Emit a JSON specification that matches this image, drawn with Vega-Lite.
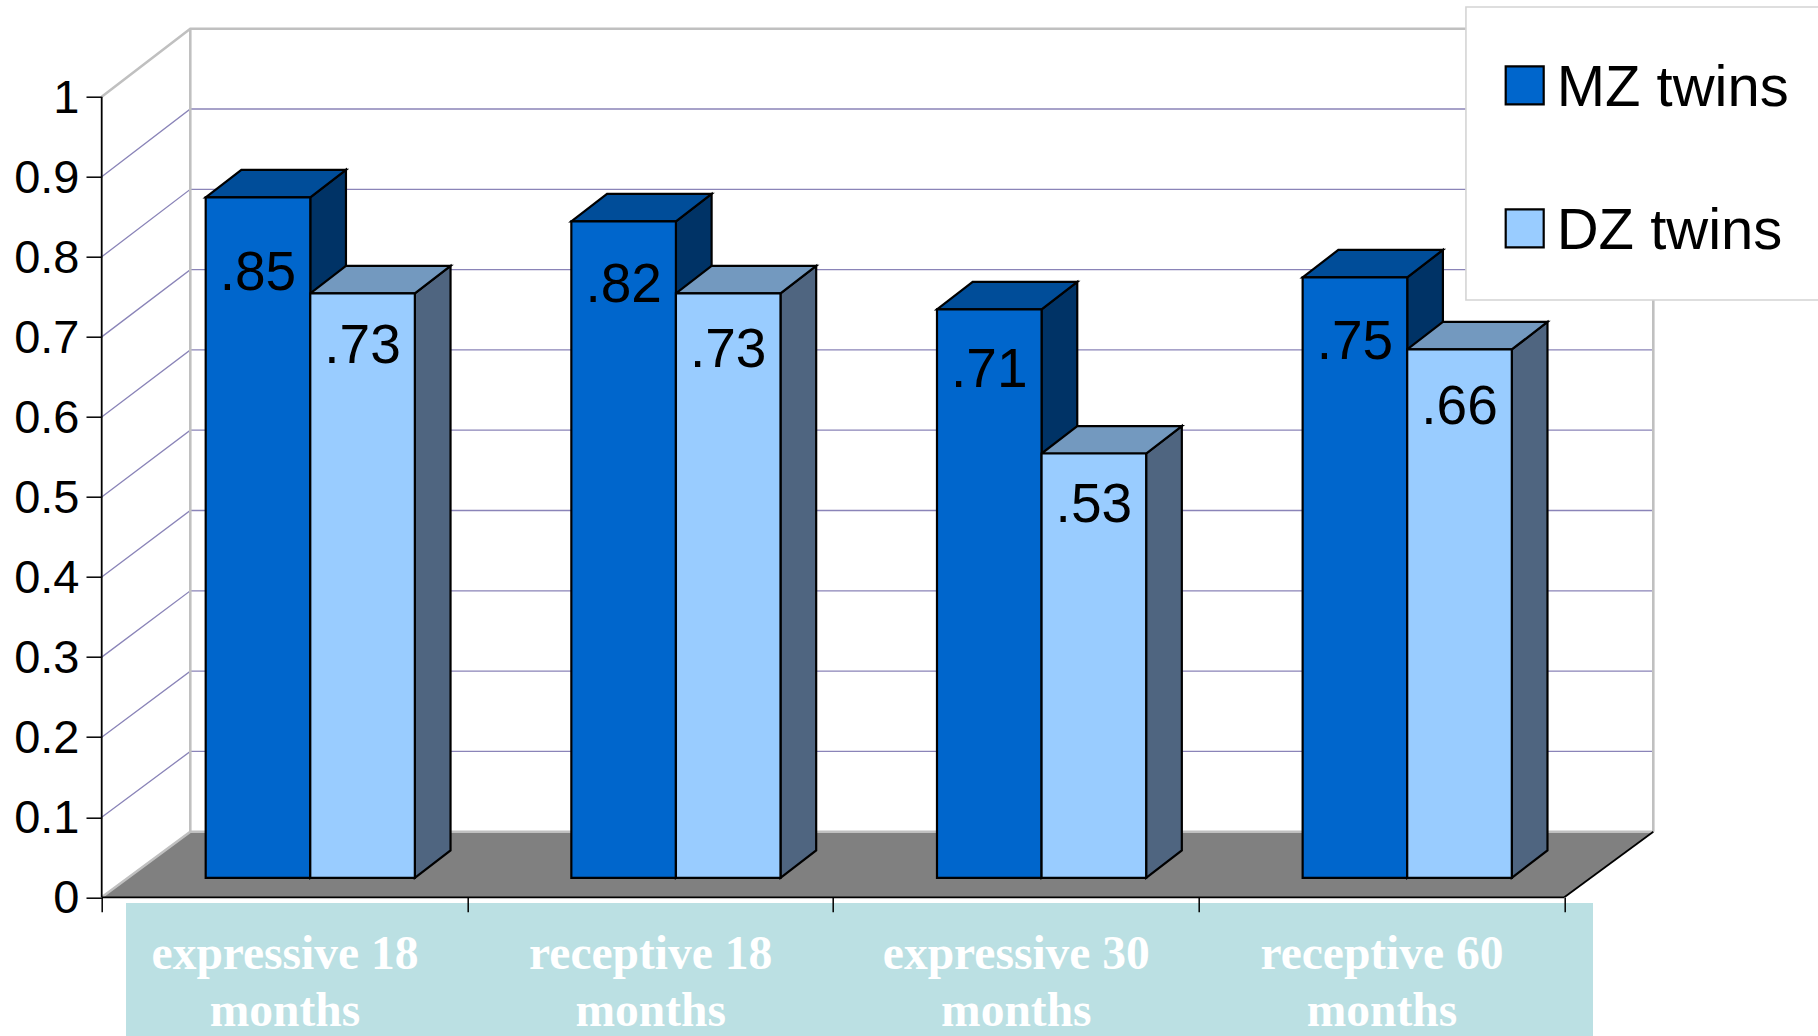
{"$schema":"https://vega.github.io/schema/vega-lite/v6.json","width":1551.6,"height":868.6,"autosize":"none","padding":{"left":101.7,"top":28.7,"right":164.7,"bottom":138.7},"background":"white","config":{"view":{"stroke":null},"font":"Liberation Sans"},
"datasets":{
"bars":[
{"category":"expressive 18 months","series":"MZ twins","value":0.85,"label":".85","at":0.78},
{"category":"expressive 18 months","series":"DZ twins","value":0.73,"label":".73","at":0.688},
{"category":"receptive 18 months","series":"MZ twins","value":0.82,"label":".82","at":0.765},
{"category":"receptive 18 months","series":"DZ twins","value":0.73,"label":".73","at":0.683},
{"category":"expressive 30 months","series":"MZ twins","value":0.71,"label":".71","at":0.659},
{"category":"expressive 30 months","series":"DZ twins","value":0.53,"label":".53","at":0.49},
{"category":"receptive 60 months","series":"MZ twins","value":0.75,"label":".75","at":0.694},
{"category":"receptive 60 months","series":"DZ twins","value":0.66,"label":".66","at":0.612}],
"grid":[{"level":0.1},{"level":0.2},{"level":0.3},{"level":0.4},{"level":0.5},{"level":0.6},{"level":0.7},{"level":0.8},{"level":0.9}],
"floor":[{"px":0,"py":0,"py2":0},{"px":0.2423,"py":0,"py2":0.0819},{"px":4,"py":0,"py2":0.0819},{"px":4.2434,"py":0.0819,"py2":0.0819}],
"frame":[
{"kind":"gray","edge":"a","step":0,"px":0,"py":1},{"kind":"gray","edge":"a","step":1,"px":0.2423,"py":1.0849},{"kind":"gray","edge":"a","step":2,"px":4.2434,"py":1.0849},{"kind":"gray","edge":"a","step":3,"px":4.2434,"py":0.0819},
{"kind":"gray","edge":"b","step":0,"px":0.2423,"py":0.0819},{"kind":"gray","edge":"b","step":1,"px":0.2423,"py":1.0849},
{"kind":"gray","edge":"c","step":0,"px":0,"py":0},{"kind":"gray","edge":"c","step":1,"px":0.2423,"py":0.0819},{"kind":"gray","edge":"c","step":2,"px":4.2434,"py":0.0819},
{"kind":"black","edge":"d","step":0,"px":4,"py":0},{"kind":"black","edge":"d","step":1,"px":4.2434,"py":0.0819},
{"kind":"black","edge":"e","step":0,"px":0,"py":0},{"kind":"black","edge":"e","step":1,"px":0,"py":1},
{"kind":"black","edge":"f","step":0,"px":0,"py":0},{"kind":"black","edge":"f","step":1,"px":4,"py":0}]
},
"encoding":{
"x":{"field":"px","type":"quantitative","title":null,"scale":{"domain":[0,4.2434],"nice":false,"zero":false},
"axis":{"values":[0,0.5,1,1.5,2,2.5,3,3.5,4],"domain":false,"grid":false,"tickSize":14.4,"tickColor":"black","tickWidth":1.5,"tickOpacity":{"condition":{"test":"datum.value % 1 == 0","value":1},"value":0},"zindex":1,"labelOverlap":false,"labelBound":false,"labelFlush":false,"labelLimit":1000,"labelFont":"Liberation Serif","labelFontWeight":"bold","labelFontSize":47.5,"labelLineHeight":57,"labelColor":"white","labelBaseline":"top","labelPadding":19,"labelExpr":"datum.value==0.5?['expressive 18','months']:datum.value==1.5?['receptive 18','months']:datum.value==2.5?['expressive 30','months']:datum.value==3.5?['receptive 60','months']:''"}},
"y":{"field":"py","type":"quantitative","title":null,"scale":{"domain":[0,1.0849],"nice":false,"zero":false},
"axis":{"values":[0,0.1,0.2,0.3,0.4,0.5,0.6,0.7,0.8,0.9,1],"format":".1~f","domain":false,"grid":false,"tickSize":15.7,"tickColor":"black","tickWidth":1.5,"labelFont":"Liberation Sans","labelFontSize":47,"labelColor":"black","labelPadding":7,"labelOffset":1.5,"labelOverlap":false,"labelBound":false}}
},
"layer":[
{"data":{"name":"floor"},"mark":{"type":"area","orient":"vertical","fill":"#808080"},"encoding":{"y2":{"field":"py2"}}},
{"data":{"name":"grid"},"transform":[{"calculate":"[0,1,2]","as":"v"},{"flatten":["v"]},{"calculate":"datum.v==0?0:datum.v==1?0.2423:4.2434","as":"px"},{"calculate":"datum.v==0?datum.level:0.0819+datum.level*1.003","as":"py"}],"mark":{"type":"line","stroke":"#8A84B8","strokeWidth":1.3},"encoding":{"detail":{"field":"level"},"order":{"field":"v"}}},
{"data":{"name":"frame"},"transform":[{"filter":"datum.kind=='gray'"}],"mark":{"type":"line","stroke":"#C0C0C0","strokeWidth":2.6},"encoding":{"detail":{"field":"edge"},"order":{"field":"step"}}},
{"data":{"name":"frame"},"transform":[{"filter":"datum.kind=='black'"}],"mark":{"type":"line","stroke":"black","strokeWidth":1.8},"encoding":{"detail":{"field":"edge"},"order":{"field":"step"}}},
{"data":{"name":"bars"},"transform":[
{"calculate":"indexof(['expressive 18 months','receptive 18 months','expressive 30 months','receptive 60 months'],datum.category)","as":"slot"},
{"calculate":"datum.slot+0.2844+(datum.series=='MZ twins'?0:0.286)","as":"xl"},
{"calculate":"datum.xl+0.286","as":"xr"},
{"calculate":"datum.value+0.0243","as":"top"}],
"layer":[
{"transform":[{"calculate":"[0,1]","as":"v"},{"flatten":["v"]},{"calculate":"datum.xr+datum.v*0.0976","as":"px"},{"calculate":"0.0243+datum.v*0.0343","as":"py"},{"calculate":"datum.top+datum.v*0.0343","as":"py2"}],
"mark":{"type":"area","orient":"vertical","stroke":"black","strokeWidth":2.2},
"encoding":{"y2":{"field":"py2"},"detail":[{"field":"category"},{"field":"series"}],"fill":{"condition":{"test":"datum.series=='MZ twins'","value":"#003366"},"value":"#4F6580"}}},
{"transform":[{"calculate":"[0,1,2,3]","as":"v"},{"flatten":["v"]},{"calculate":"[datum.xl,datum.xl+0.0976,datum.xr,datum.xr+0.0976][datum.v]","as":"px"},{"calculate":"datum.top+(datum.v==3?0.0343:0)","as":"py"},{"calculate":"datum.top+(datum.v==0?0:0.0343)","as":"py2"}],
"mark":{"type":"area","orient":"vertical","stroke":"black","strokeWidth":2.2},
"encoding":{"y2":{"field":"py2"},"detail":[{"field":"category"},{"field":"series"}],"fill":{"condition":{"test":"datum.series=='MZ twins'","value":"#004D99"},"value":"#7399BF"}}},
{"transform":[{"calculate":"datum.xl","as":"px"},{"calculate":"datum.xr","as":"px2"},{"calculate":"0.0243","as":"py"},{"calculate":"datum.top","as":"py2"}],
"mark":{"type":"rect","stroke":"black","strokeWidth":2.2},
"encoding":{"x2":{"field":"px2"},"y2":{"field":"py2"},"fill":{"field":"series","type":"nominal","scale":{"domain":["MZ twins","DZ twins"],"range":["#0066CC","#99CCFF"]},"legend":{"title":null,"orient":"none","legendX":1394,"legendY":31.2,"padding":0,"symbolType":"M-1,-1.184H1V0.816H-1Z","symbolSize":1444,"symbolStrokeColor":"black","symbolStrokeWidth":2.2,"symbolOpacity":1,"labelFont":"Liberation Sans","labelFontSize":58,"labelColor":"black","labelOffset":3,"labelLimit":1000,"rowPadding":85}}}},
{"transform":[{"calculate":"(datum.xl+datum.xr)/2","as":"px"}],"mark":{"type":"text","font":"Liberation Sans","fontSize":55,"color":"black","align":"center","baseline":"middle"},"encoding":{"y":{"field":"at","type":"quantitative"},"text":{"field":"label"}}}
]},
{"data":{"values":[{"px":0.0665,"px2":4.0785,"py":-0.007,"py2":-0.176}]},"mark":{"type":"rect","fill":"#BBE0E3"},"encoding":{"x2":{"field":"px2"},"y2":{"field":"py2"}}},
{"data":{"values":[{"px":3.731,"px2":4.9,"py":1.112,"py2":0.746}]},"mark":{"type":"rect","fill":"white","stroke":"#D4D4D4","strokeWidth":1.6},"encoding":{"x2":{"field":"px2"},"y2":{"field":"py2"}}}
]}
